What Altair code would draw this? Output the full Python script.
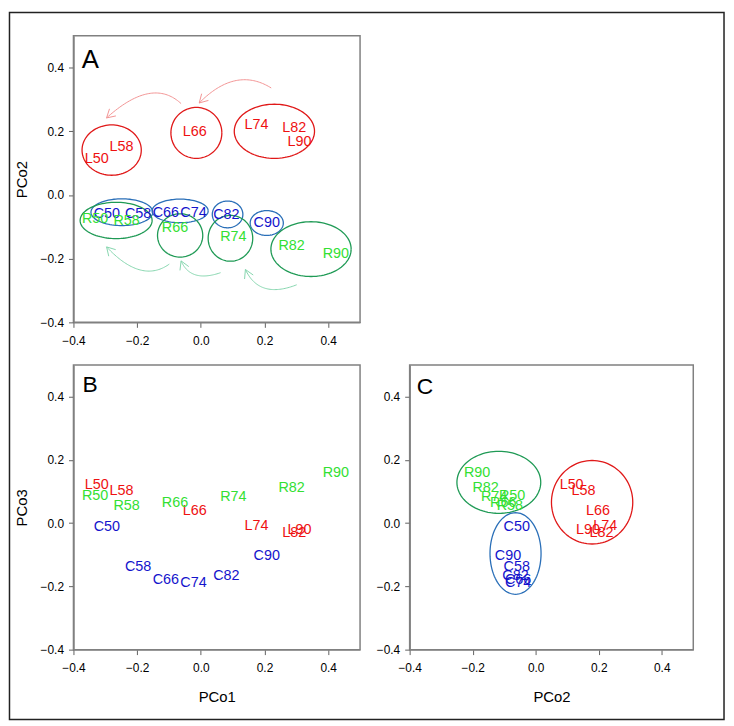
import altair as alt
import numpy as np
import pandas as pd

# ---------------- data ----------------
labels = ["L50", "L58", "L66", "L74", "L82", "L90",
          "C50", "C58", "C66", "C74", "C82", "C90",
          "R50", "R58", "R66", "R74", "R82", "R90"]
groups = ["L"] * 6 + ["C"] * 6 + ["R"] * 6
pco1 = [-0.327, -0.249, -0.019, 0.175, 0.293, 0.310,
        -0.295, -0.197, -0.110, -0.023, 0.080, 0.207,
        -0.332, -0.233, -0.081, 0.102, 0.285, 0.424]
pco2 = [0.114, 0.152, 0.198, 0.221, 0.209, 0.166,
        -0.060, -0.060, -0.056, -0.056, -0.064, -0.088,
        -0.075, -0.082, -0.103, -0.132, -0.159, -0.186]
pco3 = [0.121, 0.101, 0.038, -0.009, -0.030, -0.021,
        -0.013, -0.138, -0.180, -0.189, -0.168, -0.105,
        0.085, 0.055, 0.063, 0.083, 0.112, 0.159]

tick_values = [-0.4, -0.2, 0.0, 0.2, 0.4]
axis_domain = [-0.4, 0.5]

# ellipses of panel A (PCo1 x PCo2)
ellA_group = ["L", "L", "L", "C", "C", "C", "C", "R", "R", "R", "R"]
ellA_cx = [-0.280, -0.014, 0.231, -0.248, -0.065, 0.084, 0.207, -0.266, -0.065, 0.093, 0.346]
ellA_cy = [0.141, 0.195, 0.200, -0.054, -0.050, -0.061, -0.088, -0.080, -0.127, -0.136, -0.170]
ellA_rx = [0.093, 0.080, 0.126, 0.097, 0.088, 0.048, 0.052, 0.113, 0.071, 0.070, 0.126]
ellA_ry = [0.079, 0.080, 0.085, 0.042, 0.037, 0.042, 0.039, 0.057, 0.068, 0.072, 0.086]

# ellipses of panel C (PCo2 x PCo3)
ellC_group = ["R", "C", "L"]
ellC_cx = [-0.117, -0.064, 0.179]
ellC_cy = [0.129, -0.096, 0.066]
ellC_rx = [0.133, 0.081, 0.129]
ellC_ry = [0.098, 0.129, 0.132]

# curved arrows of panel A
arr_group = ["L", "L", "R", "R", "R"]
arr_x0 = [-0.062, 0.221, -0.099, 0.062, 0.301]
arr_y0 = [0.287, 0.336, -0.217, -0.244, -0.282]
arr_xm = [-0.166, 0.109, -0.192, -0.016, 0.202]
arr_ym = [0.318, 0.359, -0.235, -0.251, -0.293]
arr_x1 = [-0.296, -0.005, -0.296, -0.062, 0.140]
arr_y1 = [0.242, 0.289, -0.163, -0.207, -0.234]

text_colors = {"L": "#ee1111", "C": "#1414cc", "R": "#33e033"}
ring_colors = {"L": "#e01818", "C": "#2a6fb8", "R": "#1f9a55"}
arrow_colors = {"L": "#f29494", "R": "#86d6ae"}

FONT = "Liberation Sans"

# ---------------- tables ----------------
pts = pd.DataFrame({"label": labels, "grp": groups, "PCo1": pco1, "PCo2": pco2, "PCo3": pco3})
pts["col"] = [text_colors[g] for g in groups]


def ellipse_df(gs, cx, cy, rx, ry, prefix):
    rows = []
    th = np.linspace(0, 2 * np.pi, 97)
    for k, (g, a, b, r1, r2) in enumerate(zip(gs, cx, cy, rx, ry)):
        for i, t in enumerate(th):
            rows.append({"id": f"{prefix}{k}", "i": i, "x": a + r1 * np.cos(t),
                         "y": b + r2 * np.sin(t), "col": ring_colors[g]})
    return pd.DataFrame(rows)


def arrow_df():
    rows = []
    t = np.linspace(0, 1, 50)
    for k in range(len(arr_group)):
        p0 = np.array([arr_x0[k], arr_y0[k]])
        m = np.array([arr_xm[k], arr_ym[k]])
        p2 = np.array([arr_x1[k], arr_y1[k]])
        p1 = 2 * m - (p0 + p2) / 2
        c = arrow_colors[arr_group[k]]
        curve = ((1 - t) ** 2)[:, None] * p0 + (2 * (1 - t) * t)[:, None] * p1 + (t ** 2)[:, None] * p2
        for i, (x, y) in enumerate(curve):
            rows.append({"id": f"a{k}", "i": i, "x": x, "y": y, "col": c})
        d = p2 - p1
        d = d / np.linalg.norm(d)
        L = 0.030
        ang = np.radians(30)
        wings = []
        for s in (1, -1):
            ca, sa = np.cos(s * ang), np.sin(s * ang)
            rd = np.array([ca * d[0] - sa * d[1], sa * d[0] + ca * d[1]])
            wings.append(p2 - L * rd)
        for i, (x, y) in enumerate([wings[0], p2, wings[1]]):
            rows.append({"id": f"h{k}", "i": i, "x": x, "y": y, "col": c})
    return pd.DataFrame(rows)


ellA = ellipse_df(ellA_group, ellA_cx, ellA_cy, ellA_rx, ellA_ry, "ea")
ellC = ellipse_df(ellC_group, ellC_cx, ellC_cy, ellC_rx, ellC_ry, "ec")
arrows = arrow_df()
one = pd.DataFrame({"k": [0]})

scale = alt.Scale(domain=axis_domain, nice=False, zero=False)


def X(field, title):
    return alt.X(f"{field}:Q", scale=scale,
                 axis=alt.Axis(values=tick_values, format=".1f", title=title))


def Y(field, title):
    return alt.Y(f"{field}:Q", scale=scale,
                 axis=alt.Axis(values=tick_values, format=".1f", title=title))


def panel(xf, yf, xt, yt, letter, lsize, lx, ly, w, h, ell=None, arr=None, border=False):
    layers = []
    if border:
        layers.append(alt.Chart(one).mark_rect(fillOpacity=0, stroke="#222222", strokeWidth=1.5).encode(
            x=alt.value(-64.5), x2=alt.value(656), y=alt.value(-23.5), y2=alt.value(689.4)))
    if ell is not None:
        layers.append(alt.Chart(ell).mark_line(strokeWidth=1.3).encode(
            x=X("x", xt), y=Y("y", yt), detail="id:N", order="i:Q",
            color=alt.Color("col:N", scale=None)))
    if arr is not None:
        layers.append(alt.Chart(arr).mark_line(strokeWidth=1.0).encode(
            x=X("x", xt), y=Y("y", yt), detail="id:N", order="i:Q",
            color=alt.Color("col:N", scale=None)))
    layers.append(alt.Chart(pts).mark_text(font=FONT, fontSize=14.5, align="center", baseline="middle").encode(
        x=X(xf, xt), y=Y(yf, yt), text="label:N", color=alt.Color("col:N", scale=None)))
    layers.append(alt.Chart(one).mark_text(font=FONT, fontSize=lsize, align="left", baseline="alphabetic",
                                           color="black").encode(
        x=alt.value(lx), y=alt.value(ly), text=alt.value(letter)))
    return alt.layer(*layers).properties(width=w, height=h)


A = panel("PCo1", "PCo2", "", "PCo2", "A", 26, 8.4, 32.7, 289, 289, ell=ellA, arr=arrows, border=True)
B = panel("PCo1", "PCo3", "PCo1", "PCo3", "B", 23, 9.0, 27.4, 289, 287)
C = panel("PCo2", "PCo3", "PCo2", "", "C", 23, 7.2, 29.0, 286, 287, ell=ellC)

blank = alt.Chart(one).mark_text(text=" ", opacity=0).encode(
    x=alt.value(0), y=alt.value(0)).properties(
    width=286, height=289, view=alt.ViewBackground(stroke="transparent"))

chart = alt.concat(A, blank, B, C, columns=2, spacing={"row": 43, "column": 50}, bounds="flush").properties(
    padding=0
).configure_view(
    stroke="#808080", strokeWidth=1.5
).configure_axis(
    grid=False, domainColor="#808080", domainWidth=1.5, tickColor="#606060", tickSize=5,
    labelFont=FONT, labelFontSize=12, labelColor="black", labelPadding=8, labelFlush=False,
    titleFont=FONT, titleFontSize=15, titleFontWeight="normal", titleColor="black", titlePadding=13
).configure_axisX(
    titlePadding=16
).configure_axisY(
    labelPadding=5, titlePadding=11
)

chart.save("out.html", embed_options={"renderer": "svg", "actions": False})
